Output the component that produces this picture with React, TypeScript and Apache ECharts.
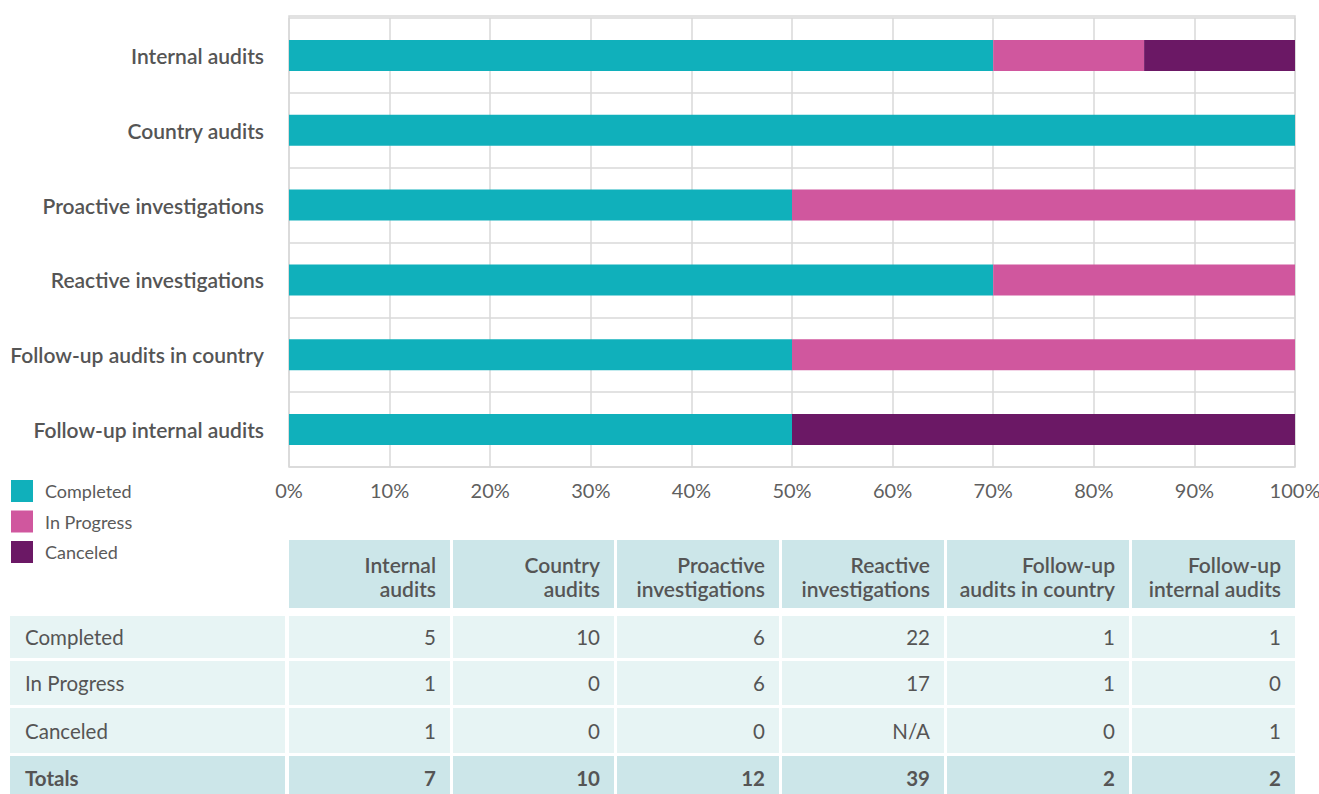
import React, { useEffect, useRef } from "react";
import * as echarts from "echarts";

const categories = [
  "Internal audits",
  "Country audits",
  "Proactive investigations",
  "Reactive investigations",
  "Follow-up audits in country",
  "Follow-up internal audits",
];
const seriesNames = ["Completed", "In Progress", "Canceled"];
const completedPct = [70, 100, 50, 70, 50, 50];
const inProgressPct = [15, 0, 50, 30, 50, 0];
const canceledPct = [15, 0, 0, 0, 0, 50];
const colors = ["#10b0bb", "#d0579e", "#6b1865"];

const tableHeaders = [
  ["Internal", "audits"],
  ["Country", "audits"],
  ["Proactive", "investigations"],
  ["Reactive", "investigations"],
  ["Follow-up", "audits in country"],
  ["Follow-up", "internal audits"],
];
const rowLabels = ["Completed", "In Progress", "Canceled", "Totals"];
const completedCounts = ["5", "10", "6", "22", "1", "1"];
const inProgressCounts = ["1", "0", "6", "17", "1", "0"];
const canceledCounts = ["1", "0", "0", "N/A", "0", "1"];
const totals = ["7", "10", "12", "39", "2", "2"];

const FONT = "Lato, 'Open Sans', sans-serif";
const colEdges = [
  [10, 285],
  [289, 450],
  [453, 614],
  [617, 779],
  [782, 944],
  [947, 1129],
  [1132, 1295],
];
const rowEdges = [
  [540, 608],
  [616, 658],
  [661, 705],
  [708, 753],
  [756, 800],
];
const headerBg = "#cce6e9";
const dataBg = "#e7f4f4";
const textColor = "#555555";

function Table() {
  const rows = [completedCounts, inProgressCounts, canceledCounts, totals];
  const cells: React.ReactNode[] = [];
  tableHeaders.forEach((h, i) => {
    const [x0, x1] = colEdges[i + 1];
    const [y0, y1] = rowEdges[0];
    cells.push(
      <div
        key={"h" + i}
        style={{
          position: "absolute",
          left: x0,
          top: y0,
          width: x1 - x0,
          height: y1 - y0,
          background: headerBg,
          boxSizing: "border-box",
          paddingRight: 14,
          paddingTop: 5,
          display: "flex",
          flexDirection: "column",
          justifyContent: "center",
          alignItems: "flex-end",
          textAlign: "right",
          fontSize: 21,
          lineHeight: "24px",
          fontWeight: 600,
          color: textColor,
          whiteSpace: "nowrap",
        }}
      >
        <div>{h[0]}</div>
        <div>{h[1]}</div>
      </div>
    );
  });
  rows.forEach((vals, r) => {
    const [y0, y1] = rowEdges[r + 1];
    const isTotal = r === 3;
    const bg = isTotal ? headerBg : dataBg;
    const weight = isTotal ? 700 : 400;
    cells.push(
      <div
        key={"l" + r}
        style={{
          position: "absolute",
          left: colEdges[0][0],
          top: y0,
          width: colEdges[0][1] - colEdges[0][0],
          height: y1 - y0,
          background: bg,
          boxSizing: "border-box",
          paddingLeft: 15,
          display: "flex",
          alignItems: "center",
          fontSize: 20.5,
          fontWeight: weight,
          color: textColor,
        }}
      >
        {rowLabels[r]}
      </div>
    );
    vals.forEach((v, c) => {
      const [x0, x1] = colEdges[c + 1];
      cells.push(
        <div
          key={"c" + r + "-" + c}
          style={{
            position: "absolute",
            left: x0,
            top: y0,
            width: x1 - x0,
            height: y1 - y0,
            background: bg,
            boxSizing: "border-box",
            paddingRight: 14,
            display: "flex",
            alignItems: "center",
            justifyContent: "flex-end",
            fontSize: 20.5,
            fontWeight: weight,
            color: textColor,
          }}
        >
          {v}
        </div>
      );
    });
  });
  return <>{cells}</>;
}

export default function App() {
  const ref = useRef<HTMLDivElement>(null);
  useEffect(() => {
    if (!ref.current) return;
    const chart = echarts.init(ref.current, undefined, { renderer: "svg" });
    const data = [completedPct, inProgressPct, canceledPct];
    chart.setOption({
      animation: false,
      textStyle: { fontFamily: FONT },
      grid: {
        left: 289,
        right: 24,
        top: 18,
        height: 449,
        outerBoundsMode: "none",
        containLabel: false,
      },
      graphic: [
        {
          type: "rect",
          silent: true,
          z: 0,
          shape: { x: 289, y: 16, width: 1006, height: 451 },
          style: { fill: "none", stroke: "#d9d9d9", lineWidth: 1.5 },
        },
      ],
      legend: {
        orient: "vertical",
        left: 11,
        top: 480,
        padding: 0,
        itemWidth: 22,
        itemHeight: 22,
        itemGap: 8.5,
        icon: "rect",
        data: seriesNames,
        textStyle: { fontSize: 18, color: "#5a5a5a", fontFamily: FONT, padding: [0, 0, 0, 7] },
        selectedMode: false,
      },
      xAxis: {
        type: "value",
        min: 0,
        max: 100,
        interval: 10,
        axisLine: { show: false },
        axisTick: { show: false },
        splitLine: { show: true, lineStyle: { color: "#d9d9d9", width: 1.5 } },
        axisLabel: {
          formatter: "{value}%",
          fontSize: 20,
          color: "#5f5f5f",
          margin: 13,
          fontFamily: FONT,
        },
      },
      yAxis: {
        type: "category",
        inverse: true,
        data: categories,
        axisLine: { show: false },
        axisTick: { show: false },
        splitLine: { show: true, lineStyle: { color: "#d9d9d9", width: 1.5 } },
        axisLabel: {
          fontSize: 21,
          fontWeight: 600,
          color: "#555555",
          margin: 25,
          padding: [0, 0, 5, 0],
          fontFamily: FONT,
        },
      },
      series: seriesNames.map((name, i) => ({
        name,
        type: "bar",
        stack: "total",
        barWidth: 31,
        itemStyle: { color: colors[i] },
        data: data[i],
      })),
    });
    return () => chart.dispose();
  }, []);
  return (
    <div
      style={{
        position: "absolute",
        left: 0,
        top: 0,
        width: 1319,
        height: 794,
        overflow: "hidden",
        fontFamily: FONT,
        background: "#fff",
      }}
    >
      <div ref={ref} style={{ position: "absolute", left: 0, top: 0, width: 1319, height: 794 }} />
      <Table />
    </div>
  );
}
